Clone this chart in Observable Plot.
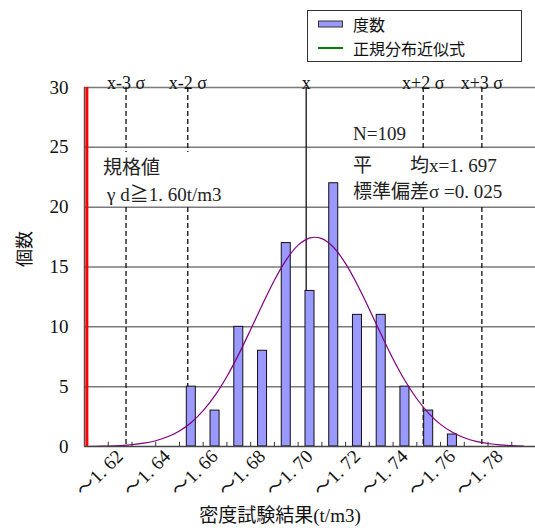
<!DOCTYPE html>
<html><head><meta charset="utf-8">
<script src="https://cdn.jsdelivr.net/npm/d3@7"></script>
<script src="https://cdn.jsdelivr.net/npm/@observablehq/plot@0.6"></script>
<style>
body{margin:0;background:#fff;}
#wrap{position:relative;width:535px;height:532px;font-family:"Liberation Serif","Noto Sans CJK JP",serif;color:#111;}
.ann{position:absolute;background:#fff;white-space:pre;line-height:1;color:#222;}
.cjk{font-family:"Noto Sans CJK JP",sans-serif;}
#legend{position:absolute;left:307px;top:10px;width:215px;height:52px;border:1.5px solid #333;background:#fff;box-sizing:border-box;}
#legend .row{position:absolute;left:10px;height:22px;line-height:22px;display:flex;align-items:center;font-family:"Noto Sans CJK JP",sans-serif;font-size:16px;color:#111;}
</style></head><body><div id="wrap"></div>
<script>
// histogram bins (axis value = bin label)
const binCenters = [1.65,1.66,1.67,1.68,1.69,1.70,1.71,1.72,1.73,1.74,1.75,1.76];
const counts     = [5,   3,   10,  8,   17,  13,  22,  11,  11,  5,   3,   1];
// x tick labels
const tickValues = [1.62,1.64,1.66,1.68,1.70,1.72,1.74,1.76,1.78];
const tickLabels = ["～1. 62","～1. 64","～1. 66","～1. 68","～1. 70","～1. 72","～1. 74","～1. 76","～1. 78"];
const binEdges = [1.615,1.625,1.635,1.645,1.655,1.665,1.675,1.685,1.695,1.705,1.715,1.725,1.735,1.745,1.755,1.765,1.775,1.785];
// y ticks
const yTicks = [0,5,10,15,20,25,30];
// fitted normal curve
const curveX = [1.6075,1.61,1.615,1.62,1.625,1.63,1.635,1.64,1.645,1.65,1.655,1.66,1.665,1.67,1.675,1.68,1.685,1.69,1.695,1.70,1.705,1.71,1.715,1.72,1.725,1.73,1.735,1.74,1.745,1.75,1.755,1.76,1.765,1.77,1.775,1.78,1.785,1.79];
const curveY = [0.01,0.02,0.04,0.08,0.15,0.28,0.48,0.81,1.30,2.01,2.99,4.27,5.85,7.72,9.77,11.88,13.9,15.6,16.83,17.44,17.37,16.63,15.28,13.5,11.47,9.35,7.32,5.51,3.99,2.77,1.85,1.19,0.73,0.43,0.25,0.13,0.07,0.04];
// sigma reference lines
const sigmaLabels = ["x-3 σ","x-2 σ","x","x+2 σ","x+3 σ"];
const sigmaPos    = [1.6225,1.6485,1.6984,1.7477,1.7724];
const meanPos = 1.6984;
const specValue = 1.606;
const xDomain = [1.605,1.795];

const bars = binCenters.map((x,i)=>({x, count:counts[i]}));
const curve = curveX.map((x,i)=>({x, y:curveY[i]}));
const dashed = sigmaPos.filter(v=>v!==meanPos);
const ticks = tickValues.map((v,i)=>({v, label:tickLabels[i]}));
const sig = sigmaPos.map((v,i)=>({v, label:sigmaLabels[i]}));

const chart = Plot.plot({
  width:535, height:532,
  marginLeft:84, marginRight:0, marginTop:87, marginBottom:86,
  x:{domain:xDomain, axis:null},
  y:{domain:[0,30], axis:null},
  style:{fontFamily:'"Liberation Serif","Noto Sans CJK JP",serif', background:"white", color:"#111"},
  marks:[
    Plot.ruleY(yTicks.slice(1), {stroke:"#7a7a7a", strokeWidth:1.5}),
    Plot.ruleX(dashed, {stroke:"#222", strokeWidth:1.4, strokeDasharray:"5,3"}),
    Plot.ruleX([meanPos], {stroke:"#222", strokeWidth:1.4}),
    Plot.rectY(bars, {x1:d=>d.x-0.0019, x2:d=>d.x+0.0019, y:"count", fill:"#9999ff", stroke:"#111", strokeWidth:1}),
    Plot.line(curve, {x:"x", y:"y", stroke:"#800080", strokeWidth:1.2, curve:"catmull-rom"}),
    Plot.ruleX(binEdges, {y1:0, y2:0.35, stroke:"#333", strokeWidth:1}),
    Plot.ruleY([0], {stroke:"#444", strokeWidth:1.6}),
    Plot.ruleX([xDomain[0]], {stroke:"#555", strokeWidth:1.5}),
    Plot.ruleX([specValue], {stroke:"red", strokeWidth:3}),
    Plot.text(yTicks, {y:d=>d, frameAnchor:"left", textAnchor:"end", dx:-16, fontSize:19, fill:"#111"}),
    Plot.text(ticks, {x:"v", text:"label", frameAnchor:"bottom", textAnchor:"end", rotate:-45, dx:4, dy:11, fontSize:19, fill:"#111"}),
    Plot.text(sig, {x:"v", text:"label", frameAnchor:"top", dy:-11, fontSize:18, fill:"#111"}),
    Plot.text(["個数"], {frameAnchor:"left", dx:-59, rotate:-90, fontSize:18, fill:"#111", fontFamily:"Noto Sans CJK JP"}),
    Plot.text(["密度試験結果(t/m3)"], {frameAnchor:"bottom", dx:-30, dy:75, fontSize:19, fill:"#111"})
  ]
});
const wrap = document.getElementById("wrap");
wrap.appendChild(chart);

function ann(html, left, top, w, h, size){
  const d = document.createElement("div");
  d.className = "ann";
  d.style.left = left+"px"; d.style.top = top+"px";
  d.style.width = w+"px"; d.style.height = h+"px";
  d.style.fontSize = size+"px";
  d.innerHTML = html;
  wrap.appendChild(d);
  return d;
}
ann('<div style="position:absolute;left:3px;top:4px"><span class="cjk">規格値</span></div><div style="position:absolute;left:7px;top:31px">γ d<span class="cjk">≧</span>1. 60t/m3</div>', 100, 152, 152, 53, 19);
ann('<div style="position:absolute;left:2px;top:1px">N=109</div>', 351, 123, 58, 22, 19);
ann('<div style="position:absolute;left:2px;top:4px"><span class="cjk">平　　均</span>x=1. 697</div><div style="position:absolute;left:2px;top:30px"><span class="cjk">標準偏差</span>σ =0. 025</div>', 351, 150, 180, 55, 19);

const lg = document.createElement("div");
lg.id = "legend";
lg.innerHTML = '<div class="row" style="top:2px"><svg width="26" height="10" style="margin-right:9px"><rect x="0.5" y="2" width="24" height="6" fill="#9999ff" stroke="#333" stroke-width="1"/></svg>度数</div>'+
  '<div class="row" style="top:26px"><svg width="26" height="10" style="margin-right:9px"><line x1="0" x2="25" y1="5" y2="5" stroke="#008000" stroke-width="2"/></svg>正規分布近似式</div>';
wrap.appendChild(lg);
</script></body></html>
